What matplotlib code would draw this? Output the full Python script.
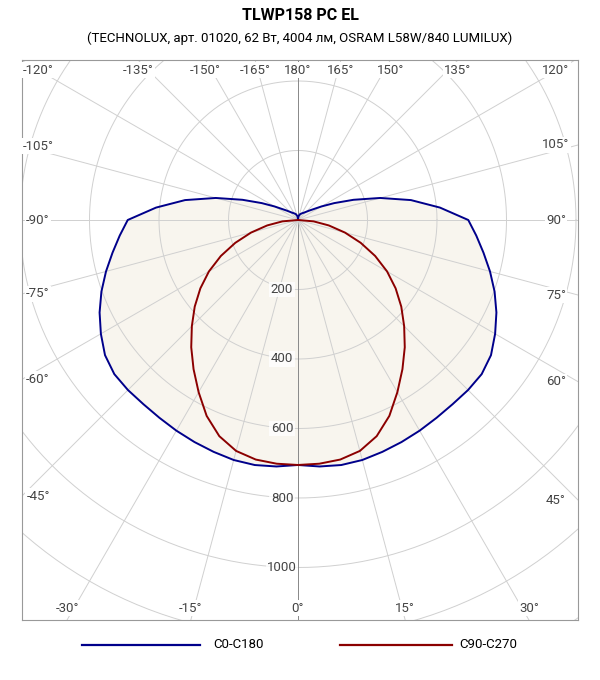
import numpy as np
import matplotlib.pyplot as plt

plt.rcParams['font.family'] = ['Roboto', 'DejaVu Sans']

title = "TLWP158 PC EL"
subtitle = "(TECHNOLUX, арт. 01020, 62 Вт, 4004 лм, OSRAM L58W/840 LUMILUX)"

# intensity (cd/klm) vs angle from nadir, symmetric halves
c0_angles = [0, 5, 10, 15, 20, 25, 30, 35, 40, 45, 50, 55, 60, 65, 70, 75, 80, 85,
             90, 95, 100, 105, 110, 115, 120, 130, 140, 150, 160, 170, 180]
c0_values = [705, 712, 716, 715, 710, 705, 700, 695, 692, 692, 690, 678, 655, 630, 602, 572,
             542, 515, 490, 410, 330, 245, 170, 115, 78, 42, 28, 22, 18, 12, 5]
c90_angles = [0, 5, 10, 15, 20, 25, 30, 35, 40, 45, 50, 55, 60, 65, 70, 75, 80, 85, 90]
c90_values = [705, 704, 700, 688, 662, 622, 572, 524, 478, 432, 388, 343, 296, 245, 192, 140, 90, 45, 0]

radius_ticks = [200, 400, 600, 800, 1000]
angle_ticks = list(range(-165, 181, 15))

BLUE = "#00008b"
RED = "#8b0000"
PX = 1 / 0.3475  # data units per pixel

fig = plt.figure(figsize=(6, 6.8), dpi=100)
ax = fig.add_axes([22 / 600, 60 / 680, 556 / 600, 560 / 680])
x0, x1 = -276 * PX, 280 * PX
y0, y1 = -400 * PX, 160 * PX
ax.set_xlim(x0, x1)
ax.set_ylim(y0, y1)
ax.set_xticks([])
ax.set_yticks([])
for s in ax.spines.values():
    s.set_color("#999999")
    s.set_linewidth(0.8)


def curve(angles, values):
    a = np.array(angles, float)
    v = np.array(values, float)
    full_a = np.concatenate([-a[::-1], a[1:]])
    full_v = np.concatenate([v[::-1], v[1:]])
    t = np.radians(full_a)
    return full_v * np.sin(t), -full_v * np.cos(t)


bx, by = curve(c0_angles, c0_values)
rx, ry = curve(c90_angles, c90_values)
ax.fill(bx, by, color="#f8f5ee", zorder=0.5)
ax.fill(rx, ry, color="#f8f5ee", zorder=0.5)

# grid
th = np.linspace(0, 2 * np.pi, 400)
for r in range(200, 1601, 200):
    ax.plot(r * np.cos(th), r * np.sin(th), color="#d0d0d0", lw=0.7, zorder=1)
for a in angle_ticks:
    t = np.radians(a)
    col = "#888888" if a in (0, 180) else "#d0d0d0"
    ax.plot([0, 2000 * np.sin(t)], [0, -2000 * np.cos(t)], color=col, lw=0.7, zorder=1)

ax.plot(bx, by, color=BLUE, lw=1.4, zorder=4)
ax.plot(rx, ry, color=RED, lw=1.4, zorder=4)

for r in radius_ticks:
    ax.text(-16 * PX, -r, str(r), ha='center', va='center', fontsize=9.5, color="#444444",
            zorder=5, bbox=dict(facecolor='white', edgecolor='none', pad=1, alpha=0.8))

# angle labels: where the ray meets the frame, pushed inside
lx0, lx1 = x0 + 16 * PX, x1 - 22 * PX
ly0, ly1 = y0 + 12 * PX, y1 - 10 * PX
for a in angle_ticks:
    t = np.radians(a)
    dx, dy = np.sin(t), -np.cos(t)
    ts = []
    if dx > 1e-9:
        ts.append(x1 / dx)
    if dx < -1e-9:
        ts.append(x0 / dx)
    if dy > 1e-9:
        ts.append(y1 / dy)
    if dy < -1e-9:
        ts.append(y0 / dy)
    k = min(ts)
    px = min(max(k * dx, lx0), lx1)
    py = min(max(k * dy, ly0), ly1)
    ax.text(px, py, f"{a}°", ha='center', va='center', fontsize=9.5, color="#444444",
            zorder=5, bbox=dict(facecolor='white', edgecolor='none', pad=1))

fig.text(0.5, 1 - 15 / 680, title, ha='center', va='center', fontsize=11.5, fontweight='bold')
fig.text(0.5, 1 - 38 / 680, subtitle, ha='center', va='center', fontsize=9.5)

ly = 1 - 645 / 680
fig.lines.append(plt.Line2D([82 / 600, 200 / 600], [ly, ly], color=BLUE, lw=1.6, transform=fig.transFigure))
fig.lines.append(plt.Line2D([340 / 600, 452 / 600], [ly, ly], color=RED, lw=1.6, transform=fig.transFigure))
fig.text(238 / 600, ly, "C0-C180", ha='center', va='center', fontsize=9.5)
fig.text(488 / 600, ly, "C90-C270", ha='center', va='center', fontsize=9.5)

fig.savefig("out.png", dpi=100)
